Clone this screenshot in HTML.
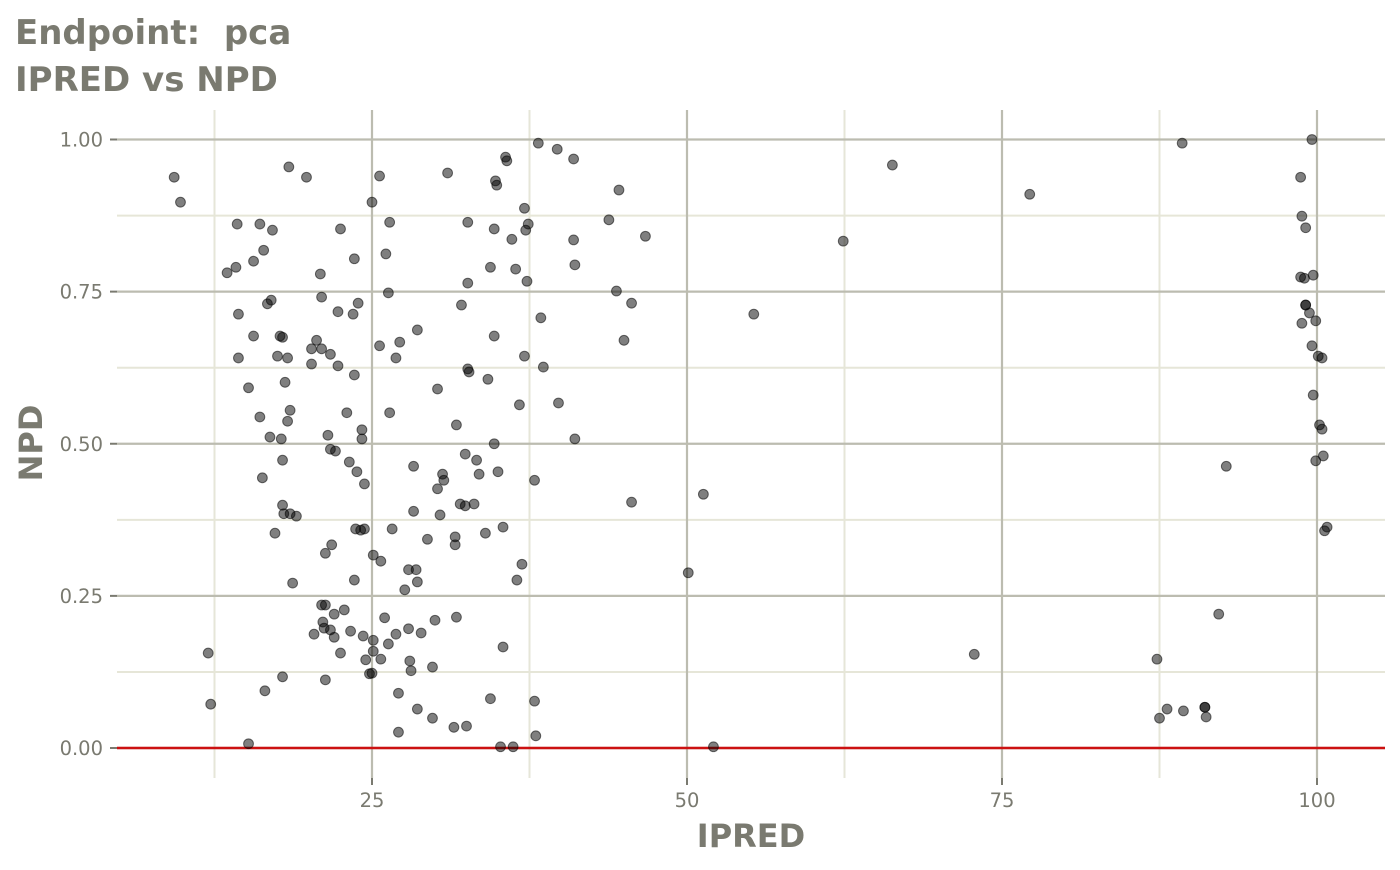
<!DOCTYPE html>
<html><head><meta charset="utf-8"><style>
body{margin:0;background:#fff;}
svg text{font-family:"DejaVu Sans","Liberation Sans",sans-serif;white-space:pre;}
</style></head><body>
<svg id="chart" width="1400" height="865" xmlns="http://www.w3.org/2000/svg">
<text x="15" y="44" font-size="34" font-weight="bold" fill="#7a7a70">Endpoint:  pca</text>
<text x="15" y="91" font-size="34" font-weight="bold" fill="#7a7a70">IPRED vs NPD</text>
<g id="grid"></g>
<g id="axes"></g>
<g id="points"></g>
<text x="751" y="847" text-anchor="middle" font-size="32" font-weight="bold" fill="#7a7a70">IPRED</text>
<text transform="translate(42,443) rotate(-90)" text-anchor="middle" font-size="32" font-weight="bold" fill="#7a7a70">NPD</text>
</svg>
<script>
const xTicks=[25,50,75,100];
const xMinor=[12.5,37.5,62.5,87.5];
const yTicks=[0,0.25,0.5,0.75,1.0];
const yTickLabels=["0.00","0.25","0.50","0.75","1.00"];
const yMinor=[0.125,0.375,0.625,0.875];
const ipred=[9.3,9.8,12.0,12.2,13.5,14.2,14.4,14.3,14.4,15.2,15.2,15.6,15.6,16.1,16.1,16.3,16.4,16.5,16.7,16.9,17.0,17.1,17.3,17.5,17.7,17.8,17.9,17.9,17.9,17.9,18.1,18.3,18.4,18.3,18.5,18.7,19.0,18.0,18.5,19.8,20.2,20.2,20.4,20.6,20.9,21.0,21.0,21.1,21.0,21.3,21.2,21.3,21.3,21.5,21.7,21.7,21.8,21.7,22.0,22.0,22.1,22.3,22.3,22.5,22.5,22.8,23.0,23.2,23.3,23.5,23.6,23.6,23.6,23.7,23.8,23.9,24.1,24.2,24.2,24.3,24.4,24.4,24.5,24.8,25.0,25.0,25.1,25.1,25.1,25.6,25.6,25.7,25.7,26.0,26.1,26.3,26.3,26.4,26.4,26.6,26.9,26.9,27.1,27.1,27.2,27.6,27.9,27.9,28.0,28.1,28.3,28.3,28.5,28.6,28.6,28.6,28.9,29.4,29.8,29.8,30.0,30.2,30.2,30.4,30.6,30.7,31.0,31.5,31.6,31.6,31.7,31.7,32.0,32.1,32.4,32.4,32.5,32.6,32.6,32.6,32.7,33.1,33.3,33.5,34.0,34.2,34.4,34.4,34.7,34.7,34.7,34.8,34.9,35.0,35.2,35.4,35.4,35.6,35.7,36.1,36.2,36.4,36.5,36.7,36.9,37.1,37.1,37.2,37.3,37.4,37.9,37.9,38.0,38.2,38.4,38.6,39.7,39.8,41.0,41.0,41.1,41.1,43.8,44.4,44.6,45.0,45.6,45.6,46.7,50.1,51.3,52.1,55.3,62.4,66.3,72.8,77.2,87.3,87.5,88.1,89.3,89.4,91.1,91.1,91.2,92.2,92.8,99.6,98.7,98.8,99.1,98.7,99.0,99.7,98.8,99.1,99.1,99.4,99.9,99.6,100.1,100.4,99.7,100.2,100.4,100.5,99.9,100.8,100.6];
const npd=[0.938,0.897,0.156,0.072,0.781,0.790,0.713,0.861,0.641,0.592,0.007,0.800,0.677,0.861,0.544,0.444,0.818,0.094,0.730,0.511,0.736,0.851,0.353,0.644,0.677,0.508,0.117,0.399,0.473,0.675,0.601,0.537,0.955,0.641,0.555,0.271,0.381,0.385,0.385,0.938,0.631,0.656,0.187,0.670,0.779,0.741,0.656,0.207,0.235,0.235,0.197,0.112,0.320,0.514,0.647,0.491,0.334,0.194,0.182,0.220,0.488,0.717,0.628,0.853,0.156,0.227,0.551,0.470,0.192,0.713,0.804,0.613,0.276,0.360,0.454,0.731,0.358,0.508,0.523,0.184,0.360,0.434,0.145,0.122,0.123,0.897,0.317,0.159,0.177,0.940,0.661,0.307,0.146,0.214,0.812,0.748,0.171,0.864,0.551,0.360,0.187,0.641,0.090,0.026,0.667,0.260,0.293,0.196,0.143,0.127,0.463,0.389,0.293,0.687,0.273,0.064,0.189,0.343,0.133,0.049,0.210,0.426,0.590,0.383,0.450,0.440,0.945,0.034,0.347,0.334,0.531,0.215,0.401,0.728,0.398,0.483,0.036,0.864,0.764,0.623,0.618,0.401,0.473,0.450,0.353,0.606,0.790,0.081,0.853,0.677,0.500,0.932,0.925,0.454,0.002,0.363,0.166,0.971,0.965,0.836,0.002,0.787,0.276,0.564,0.302,0.887,0.644,0.851,0.767,0.861,0.077,0.440,0.020,0.994,0.707,0.626,0.984,0.567,0.968,0.835,0.794,0.508,0.868,0.751,0.917,0.670,0.731,0.404,0.841,0.288,0.417,0.002,0.713,0.833,0.958,0.154,0.910,0.146,0.049,0.064,0.994,0.061,0.067,0.067,0.051,0.220,0.463,1.000,0.938,0.874,0.855,0.774,0.772,0.777,0.698,0.728,0.728,0.715,0.702,0.661,0.644,0.641,0.580,0.531,0.524,0.480,0.472,0.363,0.357];

const NS="http://www.w3.org/2000/svg";
const L=117,R=1385,T=110,B=778;
function xs(v){return 372+(v-25)*12.6;}
function ys(v){return 748-v*608.5;}
function mk(tag,attrs,parent){const e=document.createElementNS(NS,tag);for(const k in attrs)e.setAttribute(k,attrs[k]);parent.appendChild(e);return e;}
const grid=document.getElementById('grid'),axes=document.getElementById('axes'),pts=document.getElementById('points');
yMinor.forEach(v=>{const l=mk('line',{x1:L,x2:R,y1:ys(v),y2:ys(v),stroke:'#e6e6d8','stroke-width':2},grid);

});
xMinor.forEach(v=>{const l=mk('line',{x1:xs(v),x2:xs(v),y1:T,y2:B,stroke:'#e6e6d8','stroke-width':2},grid);

});
yTicks.forEach((v,i)=>{const l=mk('line',{x1:L,x2:R,y1:ys(v),y2:ys(v),stroke:'#bcbcb0','stroke-width':2.2},grid);


const t=mk('line',{x1:110,x2:117,y1:ys(v),y2:ys(v),stroke:'#7a7a70','stroke-width':2},axes);


const tx=mk('text',{x:103,y:ys(v)+7,'text-anchor':'end','font-size':19.5,fill:'#7a7a70'},axes);
tx.textContent=yTickLabels[i];

});
xTicks.forEach(v=>{const l=mk('line',{x1:xs(v),x2:xs(v),y1:T,y2:B,stroke:'#bcbcb0','stroke-width':2.2},grid);


const t=mk('line',{x1:xs(v),x2:xs(v),y1:778,y2:785,stroke:'#7a7a70','stroke-width':2},axes);


const tx=mk('text',{x:xs(v),y:807,'text-anchor':'middle','font-size':19.5,fill:'#7a7a70'},axes);
tx.textContent=String(v);

});
const ref=mk('line',{x1:L,x2:R,y1:ys(0),y2:ys(0),stroke:'#cc1111','stroke-width':2.5},axes);


ipred.forEach((x,i)=>{const c=mk('circle',{cx:xs(x),cy:ys(npd[i]),r:4.9,fill:'rgba(0,0,0,0.5)',stroke:'rgba(0,0,0,0.55)','stroke-width':1},pts);

});
</script>
</body></html>
